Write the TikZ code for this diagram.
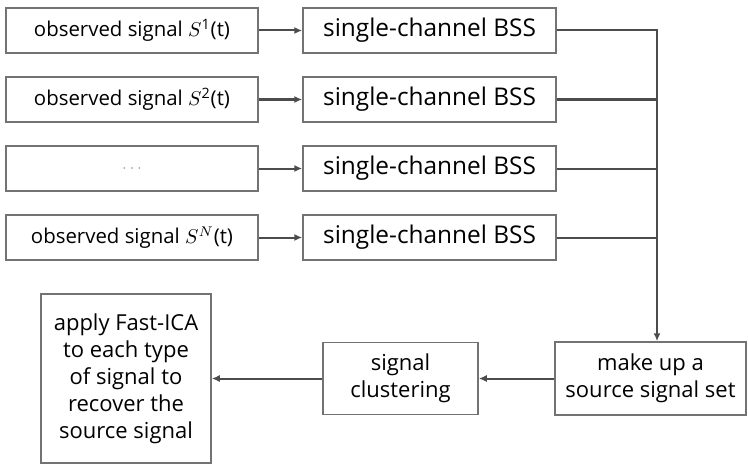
\documentclass[tikz,border=0pt]{standalone}
\usepackage{fontspec}
\setmainfont{Open Sans}
\usetikzlibrary{arrows.meta}
\begin{document}
\begin{tikzpicture}[x=0.5pt,y=-0.5pt,
    every node/.style={font=\fontsize{11}{13.5}\selectfont},
    box/.style={draw=black!55, line width=0.75pt, inner sep=0pt, align=center},
    flow/.style={draw=black!70, line width=1pt, -{Latex[length=4pt,width=3.5pt]}}]
    \useasboundingbox (0,0) rectangle (748,465);
    % observed signals and single-channel separation
    \node [box, minimum width=126pt, minimum height=22.5pt, font=\fontsize{10.2}{13.5}\selectfont] (obs1) at (132,30.5) {observed signal $S^{\mathrm{1}}$(t)};
    \node [box, minimum width=126pt, minimum height=22.5pt, font=\fontsize{10.2}{13.5}\selectfont] (obs2) at (132,99.5) {observed signal $S^{\mathrm{2}}$(t)};
    \node [box, minimum width=126pt, minimum height=22.5pt] (obs3) at (132,168.5) {\textcolor{black!40}{\footnotesize $\cdots$}};
    \node [box, minimum width=126pt, minimum height=22.5pt, font=\fontsize{10.2}{13.5}\selectfont] (obs4) at (132,237.5) {observed signal $S^N$(t)};
    \foreach \i/\y in {1/30.5,2/99.5,3/168.5,4/237.5}{
        \node [box, minimum width=126.5pt, minimum height=22.5pt, font=\fontsize{12.2}{13.5}\selectfont] (bss\i) at (429.5,\y) {single-channel BSS};
        \draw [flow] (obs\i) -- (bss\i);
    }
    % gathering, clustering, Fast-ICA
    \node [box, minimum width=95.5pt, minimum height=36.5pt] (makeup) at (650.5,378.5) {make up a\\source signal set};
    \node [box, minimum width=77.5pt, minimum height=36pt] (cluster) at (400.5,378.5) {signal\\clustering};
    \node [box, minimum width=85pt, minimum height=84.5pt] (apply) at (126,378.5) {apply Fast-ICA\\to each type\\of signal to\\recover the\\source signal};
    \coordinate (join) at (657,30.5);
    \draw [flow] (bss1.east) -- (join) -- (makeup.north -| join);
    \foreach \i in {2,3,4}
        \draw [draw=black!70, line width=1pt] (bss\i.east) -- (bss\i.east -| join);
    \draw [flow] (makeup) -- (cluster);
    \draw [flow] (cluster) -- (apply);
\end{tikzpicture}
\end{document}
